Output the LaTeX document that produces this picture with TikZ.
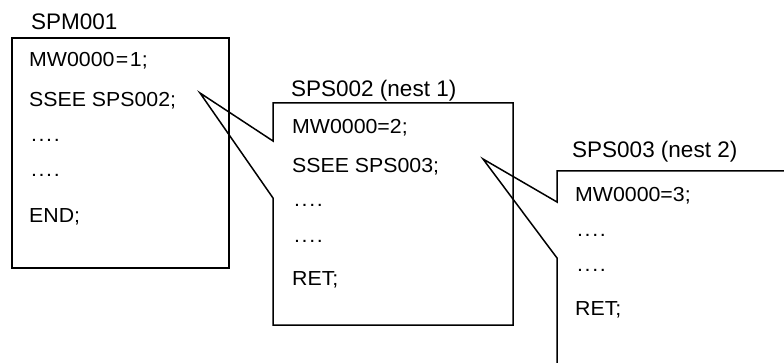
\documentclass[tikz,border=0pt]{standalone}
\usepackage{fontspec}
\setmainfont{Liberation Sans}
\newfontfamily\contentfont[FakeStretch=1.05]{Liberation Sans}
\newcommand{\myfourdots}{.\kern1.6pt.\kern1.6pt.\kern1.6pt.}
\begin{document}
\begin{tikzpicture}[x=1pt,y=-1pt,
  boxline/.style={line width=1.5pt, line join=miter},
  title/.style={anchor=base west, inner sep=0pt, font=\fontsize{22.5}{24}\selectfont},
  code/.style={anchor=base west, inner sep=0pt, font=\contentfont\fontsize{20.3}{22}\selectfont}]
\useasboundingbox (0,0) rectangle (784,363);
\clip (0,0) rectangle (784,363);
% box 1
\coordinate (b1nw) at (12,38);
\coordinate (b1se) at (229,268);
\draw[boxline] (b1nw) rectangle (b1se);
\node[title] (t1) at (31,30) {SPM001};
\node[code] (a1) at (29,67) {MW0000\kern1.5pt=\kern1.5pt1;};
\node[code] (a2) at (29,107) {SSEE SPS002;};
\node[code] (a3) at (31,142) {\myfourdots};
\node[code] (a4) at (31,177) {\myfourdots};
\node[code] (a5) at (29,223) {END;};
% box 2 with callout
\coordinate (tip1) at (200,93);
\coordinate (b2nw) at (273,103);
\coordinate (b2ne) at (513,103);
\coordinate (b2se) at (513,325);
\coordinate (b2sw) at (273,325);
\coordinate (n1u) at (273,141);
\coordinate (n1l) at (273,198);
\draw[boxline] (n1u) -- (b2nw) -- (b2ne) -- (b2se) -- (b2sw) -- (n1l) -- (tip1) -- cycle;
\node[title] (t2) at (291,97) {SPS002 (nest 1)};
\node[code] (c1) at (292,134) {MW0000=2;};
\node[code] (c2) at (292,173) {SSEE SPS003;};
\node[code] (c3) at (294,207) {\myfourdots};
\node[code] (c4) at (294,243) {\myfourdots};
\node[code] (c5) at (292,286) {RET;};
% box 3 with callout
\coordinate (tip2) at (483,159);
\coordinate (b3nw) at (557,171);
\coordinate (b3ne) at (800,171);
\coordinate (b3sw) at (557,380);
\coordinate (n2u) at (557,202);
\coordinate (n2l) at (557,258);
\draw[boxline] (b3ne) -- (b3nw) -- (n2u) -- (tip2) -- (n2l) -- (b3sw);
\node[title] (t3) at (572,158) {SPS003 (nest 2)};
\node[code] (d1) at (575,202) {MW0000=3;};
\node[code] (d2) at (577,237) {\myfourdots};
\node[code] (d3) at (577,272) {\myfourdots};
\node[code] (d4) at (575,316) {RET;};
\end{tikzpicture}
\end{document}
